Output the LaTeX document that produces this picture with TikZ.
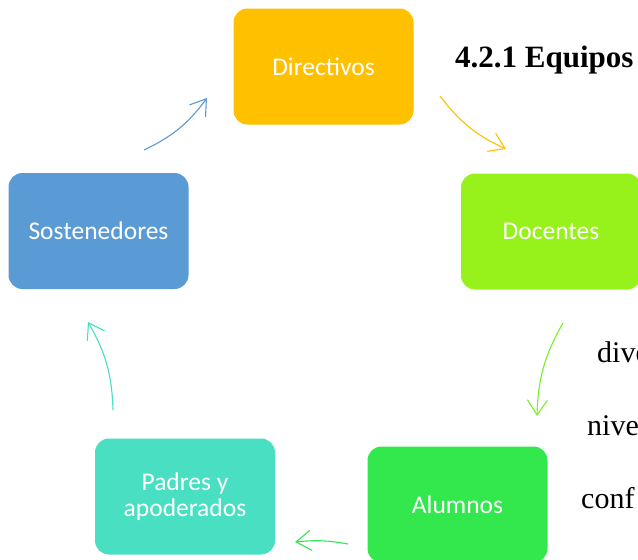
\documentclass[tikz,border=0pt]{standalone}
\usepackage{fontspec}
\setmainfont{Liberation Serif}
\newfontfamily\boxfont{Carlito}
\usetikzlibrary{arrows.meta}
\definecolor{cdir}{HTML}{FFC000}
\definecolor{cdoc}{HTML}{97F21B}
\definecolor{csos}{HTML}{5B9BD5}
\definecolor{cpad}{HTML}{48DFC2}
\definecolor{calu}{HTML}{33E84D}
\tikzset{
  box/.style={rectangle, rounded corners=14pt, minimum width=180pt, minimum height=116pt,
    inner sep=0pt, text=white, font=\boxfont\fontsize{25.5}{26}\selectfont, align=center},
  cyc/.style={line width=1.1pt, -{Straight Barb[length=15pt,width=20pt,line width=1.1pt]}},
  body/.style={font=\fontsize{30}{34}\selectfont, anchor=base west, inner sep=0pt},
}
\begin{document}
\begin{tikzpicture}[x=1pt,y=-1pt]
\clip (0,0) rectangle (638,560);
\fill[white] (0,0) rectangle (638,560);
\node[box, fill=cdir] (dir) at (323.5,66.5) {Directivos};
\node[box, fill=cdoc] (doc) at (551,231.5) {Docentes};
\node[box, fill=csos] (sos) at (98.5,231) {Sostenedores};
\node[box, fill=cpad] (pad) at (185,496.5) {Padres y\\apoderados};
\node[box, fill=calu] (alu) at (457.5,504.5) {Alumnos};
\node[body, font=\bfseries\fontsize{31}{34}\selectfont] (title) at (455,67) {4.2.1 Equipos};
\node[body] (t1) at (597,362) {dive};
\node[body] (t2) at (587,435) {nive};
\node[body] (t3) at (581,508) {conf};
\coordinate (a1) at (440,96);  \coordinate (b1) at (506,149);
\coordinate (a2) at (563,323); \coordinate (b2) at (537,416);
\coordinate (a3) at (348,544); \coordinate (b3) at (295,542);
\coordinate (a4) at (113,410); \coordinate (b4) at (88,322);
\coordinate (a5) at (144,150); \coordinate (b5) at (207,98);
\draw[cyc, cdir] (a1) to[bend right=14] (b1);
\draw[cyc, cdoc!70!calu] (a2) to[bend right=14] (b2);
\draw[cyc, calu] (a3) to[bend right=8] (b3);
\draw[cyc, cpad] (a4) to[bend right=14] (b4);
\draw[cyc, csos] (a5) to[bend right=14] (b5);
\end{tikzpicture}
\end{document}
